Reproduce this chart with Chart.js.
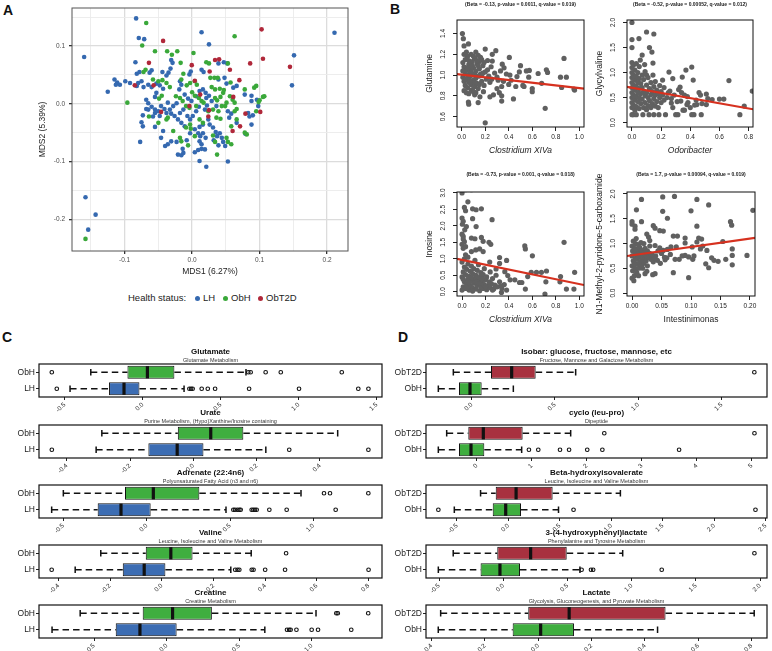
<!DOCTYPE html>
<html lang="en">
<head>
<meta charset="UTF-8">
<title>Health status metabolite figure</title>
<script src="https://cdn.jsdelivr.net/npm/chart.js"></script>
<style>
  body { margin: 0; background: #fff; font-family: 'Liberation Sans', Arial, sans-serif; }
  #fig { position: relative; width: 772px; height: 651px; overflow: hidden; }
  canvas { position: absolute; }
  .lbl { position: absolute; font-weight: bold; font-size: 14px; line-height: 14px; color: #111; }
  .leg { position: absolute; top: 292px; font-size: 9.5px; line-height: 12px; color: #222; }
  .dot { position: absolute; top: 295.5px; width: 5px; height: 5px; border-radius: 50%; }
</style>
</head>
<body>
<div id="fig">
  <div class="lbl" style="left:3px;top:3px">A</div>
  <div class="lbl" style="left:390px;top:2px">B</div>
  <div class="lbl" style="left:2px;top:330px">C</div>
  <div class="lbl" style="left:398px;top:330px">D</div>

  <canvas id="mds" width="360" height="285" style="left:0;top:0"></canvas>
  <div class="leg" style="left:128px">Health status:</div>
  <div class="dot" style="left:194.5px;background:#3569b0"></div><div class="leg" style="left:203px">LH</div>
  <div class="dot" style="left:222.5px;background:#3aa83a"></div><div class="leg" style="left:231px">ObH</div>
  <div class="dot" style="left:257.5px;background:#b0283a"></div><div class="leg" style="left:266px">ObT2D</div>

  <canvas id="b1" width="205" height="160" style="left:385px;top:0"></canvas>
  <canvas id="b2" width="205" height="160" style="left:555px;top:0"></canvas>
  <canvas id="b3" width="205" height="157" style="left:385px;top:172px"></canvas>
  <canvas id="b4" width="205" height="169" style="left:555px;top:160px"></canvas>
</div>

<script>
  // ---------- panel A : MDS ----------
  const aXBreaks = [-0.15, -0.1, -0.05, 0, 0.05, 0.1, 0.15, 0.2];
  const aXLabels = ['', '-0.1', '', '0.0', '', '0.1', '', '0.2'];
  const aYBreaks = [-0.2, -0.15, -0.1, -0.05, 0, 0.05, 0.1, 0.15];
  const aYLabels = ['-0.2', '', '-0.1', '', '0.0', '', '0.1', ''];

  const lhPts = [[-0.16,0.081],[-0.158,-0.162],[-0.143,-0.192],[-0.154,-0.218],[0.211,0.123],[0.151,0.084],[0.148,0.032],[-0.083,0.148],[0.014,0.124],[0.025,0.103],[-0.125,0.021],[-0.077,-0.066],[0.011,-0.099],[0.021,-0.109],[0.053,-0.1],
    [-0.079,0.114],[-0.071,0.112],[-0.084,0.072],[-0.082,0.052],[-0.078,0.055],[-0.06,0.058],[-0.063,0.054],[-0.031,0.076],[-0.029,0.071],[-0.032,0.061],[-0.035,0.054],[-0.038,0.049],[-0.044,0.055],[-0.018,0.039],[-0.016,0.033],[-0.019,0.025],[-0.002,0.056],[-0.004,0.051],[0.014,0.059],[0.017,0.055],[0.039,0.07],[0.047,0.072],[0.052,0.07],[0.048,0.045],[0.051,0.035],[0.039,0.042],[0.061,0.028],[0.066,0.031],[0.078,0.016],[0.088,0.014],[0.088,0.005],[0.096,0.007],
    [-0.115,0.042],[-0.111,0.037],[-0.113,0.033],[-0.107,0.033],[-0.099,0.039],[-0.092,0.036],[-0.082,0.031],[-0.08,0.036],[-0.075,0.039],[-0.072,0.029],[-0.065,0.033],[-0.06,0.029],[-0.053,0.035],[-0.048,0.032],[-0.043,0.026],[-0.053,0.019],[-0.055,0.012],[-0.068,0.007],[-0.065,0.001],[-0.06,-0.005],[-0.068,-0.009],[-0.055,-0.01],[-0.055,-0.016],[-0.073,-0.02],[-0.075,-0.032],[-0.058,-0.022],[-0.046,-0.004],[-0.041,-0.009],[-0.038,-0.016],[-0.033,-0.01],[-0.036,0.002],[-0.028,-0.004],[-0.023,0.001],[-0.031,-0.017],[-0.026,-0.021],[-0.021,-0.027],[-0.018,-0.016],[-0.013,-0.01],[-0.007,-0.021],[-0.003,-0.027],[-0.016,-0.033],[-0.011,-0.039],[0.001,-0.021],[0.006,-0.013],[0.01,-0.005],[0.011,0.022],[0.016,0.025],[0.02,0.019],[0.006,0.013],
    [-0.055,-0.04],[-0.043,-0.047],[-0.046,-0.059],[-0.04,-0.073],[-0.036,-0.07],[-0.031,-0.065],[-0.023,-0.066],[-0.021,-0.088],[-0.016,-0.089],[-0.013,-0.085],[-0.014,-0.078],[-0.008,-0.063],[-0.003,-0.051],[0.004,-0.044],[0.009,-0.051],[0.011,-0.04],[0.016,-0.036],[0.012,-0.056],[0.016,-0.051],[0.02,-0.059],[0.011,-0.065],[0.014,-0.07],[0.004,-0.084],[0.009,-0.08],[0.014,-0.078],[0.019,-0.079],[0.024,-0.027],[0.026,-0.036],[0.031,-0.041],[0.035,-0.049],[0.037,-0.056],[0.041,-0.051],[0.044,-0.059],[0.046,-0.066],[0.049,-0.073],[0.039,-0.072],[0.032,-0.063],[0.022,-0.003],[0.019,-0.01],[0.029,0.005],[0.036,-0.004],[0.053,-0.013],[0.058,-0.017],[0.055,-0.024],[0.066,-0.033],[0.083,-0.016],[0.09,-0.02],[0.088,-0.036],[0.085,-0.022],[0.098,-0.004],[0.079,-0.052],[0.021,0.01],[0.025,0.014],[-0.006,0.009],[-0.001,0.005],[-0.011,0.016],[-0.05,-0.013],[-0.048,-0.021],[-0.065,-0.01],[-0.073,-0.039]];
  const obhPts = [[-0.158,-0.234],[-0.068,0.14],[0.063,0.117],[-0.096,0.002],[0.107,0.013],[-0.074,0.101],[-0.055,0.091],[-0.037,0.091],[-0.03,0.085],[-0.022,0.091],[0.002,0.088],[-0.017,0.071],[0.021,0.072],[0.025,0.07],[0.053,0.07],[-0.069,0.059],[-0.072,0.055],[-0.058,0.042],[-0.05,0.039],[-0.044,0.041],[-0.038,0.036],[-0.033,0.029],[-0.013,0.052],[-0.016,0.042],[-0.008,0.032],[-0.003,0.036],[0.004,0.039],[0.007,0.033],[0.027,0.045],[0.033,0.045],[0.038,0.045],[0.029,0.029],[0.034,0.025],[0.041,0.026],[0.046,0.019],[0.047,0.024],[0.057,0.037],[0.078,0.025],[0.092,0.028],[0.095,0.031],[0.105,0.012],[0.1,0.006],[0.0985,0.003],
    [0.056,0.013],[0.06,0.007],[0.063,0.002],[0.066,-0.009],[0.063,-0.013],[0.066,-0.027],[0.095,-0.013],[0.078,-0.05],[0.081,-0.053],[-0.018,0.01],[-0.014,0.005],[0,0.02],[0.004,0.014],[0.01,0.01],[0.014,0.005],[0.017,0.002],[0.034,0.01],[0.037,0.006],[0.042,0.012],[0.051,0.002],[0.049,-0.004],[0.031,-0.01],[0.039,-0.013],[0.024,-0.013],[0.036,-0.024],[0.042,-0.026],[0.011,-0.027],[0.016,-0.033],[-0.003,-0.036],[-0.002,-0.043],[-0.009,-0.041],[-0.038,-0.027],[-0.036,-0.024],[-0.028,-0.047],[-0.018,-0.059],[-0.016,-0.065],[-0.006,-0.072],[0.004,-0.056],[0.031,-0.055],[0.034,-0.066],[0.051,-0.059],[0.053,-0.066],[0.058,-0.07],[0.037,-0.088],[-0.049,0.009],[-0.045,0.014],[-0.024,0.013],[-0.004,-0.007],[-0.009,-0.004],[0.006,-0.004],[0.044,-0.004],[0.058,-0.039],[-0.05,-0.033],[-0.064,-0.022]];
  const t2dPts = [[0.103,0.129],[0.105,0.078],[0.145,0.064],[0.086,0.07],[-0.043,0.109],[-0.064,0.071],[-0.085,0.032],[-0.057,0.032],[-0.0005,0.067],[0.026,0.056],[0.034,0.076],[0.04,0.077],[0.056,0.059],[0.07,0.041],[0.004,0.04],[0.012,0.016],[-0.004,-0.004],[-0.046,-0.014],[0.024,-0.022],[0.025,-0.011],[0.061,0.012],[0.071,-0.039],[0.06,-0.047],[0.079,-0.017],[0.101,-0.014]];

  // ---------- panel B : metabolite vs genus ----------
  const glutaminePts = [[0.006,1.40],[0.014,1.35],[0.02,1.28],[0.057,1.30],[0.2,1.25],[0.29,1.235],[0.405,1.17],[0.87,1.16],[0.345,1.105],[0.26,1.135],[0.22,1.14],[0.36,1.07],[0.5,1.09],[0.49,1.03],[0.55,1.04],[0.575,1.045],[0.72,1.05],[0.73,1.025],[0.65,1.015],[0.57,0.98],[0.68,0.92],[0.84,0.98],[0.89,0.98],[0.85,0.88],[0.96,0.855],[0.955,0.865],[0.44,0.77],[0.34,0.8],[0.34,0.75],[0.32,0.83],[0.52,0.9],[0.53,0.89],[0.6,0.84],[0.6,0.87],[0.71,0.68],[0.2,0.54],[0.057,0.74],[0.06,0.72],[0.14,0.735],[0.24,0.79],[0.27,0.81],[0.3,0.87],[0.34,0.89],[0.4,0.91],[0.46,0.89],[0.355,0.94],[0.31,0.95],[0.255,0.96],[0.41,1.0],[0.47,0.985],[0.11,0.81],[0.155,0.79],[0.185,0.84],[0.12,0.92],
    [0.01,1.12],[0.02,1.08],[0.03,1.15],[0.04,1.05],[0.05,1.18],[0.06,1.10],[0.07,1.02],[0.08,1.20],[0.09,1.13],[0.10,1.07],[0.11,1.16],[0.12,1.04],[0.13,1.11],[0.14,1.19],[0.15,1.06],[0.16,1.01],[0.18,1.09],[0.20,1.03],[0.22,1.05],[0.01,0.98],[0.02,0.94],[0.03,0.90],[0.04,0.96],[0.05,0.88],[0.06,0.93],[0.07,0.99],[0.08,0.91],[0.09,0.86],[0.10,0.95],[0.11,0.89],[0.12,0.97],[0.13,0.92],[0.14,0.87],[0.15,0.99],[0.17,0.94],[0.19,0.90],[0.21,0.96],[0.03,1.02],[0.05,1.00],[0.07,1.06],[0.09,1.00],[0.11,1.01],[0.13,0.99],[0.15,1.13],[0.17,1.15],[0.19,1.12],[0.02,1.20],[0.04,1.22],[0.06,1.14],[0.08,1.03],[0.10,1.18],[0.12,1.22],[0.14,1.09],[0.16,1.17],[0.18,1.02],[0.02,0.85],[0.04,0.83],[0.06,0.82],[0.08,0.85],[0.10,0.84],[0.12,0.83],[0.01,1.04],[0.03,0.96],[0.05,1.07],[0.07,0.95],[0.09,1.09],[0.11,0.93],[0.13,1.14],[0.15,0.91],[0.17,1.00],[0.25,1.08],[0.28,1.02],[0.30,0.98],[0.24,0.93],[0.26,1.20],[0.33,1.04],[0.38,1.01],[0.42,0.95],[0.23,0.99]];
  const glycylvalinePts = [[0,2.0],[0,1.66],[0,1.5],[0.048,1.68],[0.1,1.81],[0.15,1.77],[0.07,1.35],[0.12,1.5],[0.137,1.41],[0.144,1.19],[0.057,1.25],[0.087,1.16],[0.1,0.95],[0.144,0.95],[0.21,0.85],[0.254,1.01],[0.28,0.88],[0.345,0.91],[0.37,1.05],[0.41,1.11],[0.42,0.85],[0.33,0.71],[0.32,0.66],[0.46,0.6],[0.47,0.55],[0.51,0.36],[0.55,0.46],[0.6,0.47],[0.63,0.47],[0.665,0.84],[0.74,0.16],[0.77,0.33],[0.825,0.63],[0.51,0.57],[0.36,0.55],[0.377,0.36],[0.43,0.35],[0.445,0.36],[0.425,0.16],[0.41,0.16],[0.475,0.16],[0.315,0.16],[0.3,0.16],[0.26,0.63],[0.27,0.39],[0.335,0.43],[0.36,0.25],[0.384,0.4],[0.23,0.16],[0.185,0.16],[0.15,0.16],[0.117,0.16],[0.075,0.16],[0.01,0.16],[0,0.16],[0.03,0.16],
    [0,1.2],[0,1.1],[0,1.0],[0,0.9],[0,0.8],[0,0.7],[0,0.6],[0,0.5],[0,0.4],[0,0.3],[0.01,1.15],[0.01,0.95],[0.01,0.75],[0.01,0.55],[0.01,0.35],[0.02,1.05],[0.02,0.85],[0.02,0.65],[0.02,0.45],[0.02,0.25],[0.03,1.18],[0.03,0.92],[0.03,0.72],[0.03,0.52],[0.03,0.32],[0.04,1.0],[0.04,0.8],[0.04,0.6],[0.04,0.42],[0.05,1.12],[0.05,0.88],[0.05,0.68],[0.05,0.5],[0.05,0.28],[0.06,0.78],[0.06,0.58],[0.06,0.38],[0.07,0.95],[0.07,0.7],[0.07,0.47],[0.08,0.86],[0.08,0.62],[0.08,0.3],[0.09,1.02],[0.09,0.54],[0.09,0.4],[0.10,0.75],[0.10,0.6],[0.10,0.26],[0.11,0.9],[0.11,0.5],[0.11,0.34],[0.12,0.68],[0.12,0.44],[0.13,0.8],[0.13,0.56],[0.13,0.3],[0.14,0.62],[0.14,0.38],[0.15,0.72],[0.15,0.48],[0.16,0.82],[0.16,0.55],[0.16,0.33],[0.17,0.65],[0.17,0.42],[0.18,0.58],[0.18,0.3],[0.19,0.74],[0.19,0.5],[0.20,0.62],[0.20,0.4],[0.21,0.55],[0.22,0.45],[0.22,0.7],[0.24,0.5],[0.25,0.6],[0.27,0.48],[0.29,0.55],[0.31,0.42],[0.34,0.6],[0.38,0.52],[0.40,0.3],[0.44,0.45],[0.48,0.38],[0.52,0.48],[0.35,0.25],[0.28,0.3]];
  const inosinePts = [[0,3.0],[0.03,3.1],[0.08,3.1],[0.05,2.73],[0.02,2.56],[0.03,2.46],[0.09,2.52],[0.12,2.49],[0.165,2.52],[0.09,2.22],[0.256,2.19],[0,2.24],[0.01,2.14],[0.003,2.05],[0.023,1.88],[0.037,1.98],[0.12,1.98],[0,1.75],[0.01,1.68],[0.01,1.6],[0.02,1.52],[0,1.44],[0.01,1.32],[0.03,1.37],[0.08,1.63],[0.11,1.61],[0.165,1.65],[0.18,1.53],[0.23,1.5],[0.245,1.44],[0.117,1.27],[0.15,1.3],[0.18,1.22],[0.08,1.22],[0.32,1.04],[0.38,0.95],[0.535,1.39],[0.54,1.3],[0.6,1.09],[0.87,1.5],[0.236,0.9],[0.32,0.86],[0.29,0.69],[0.365,0.61],[0.39,0.49],[0.41,0.36],[0.45,0.36],[0.49,0.28],[0.336,-0.02],[0.54,0.08],[0.59,0.59],[0.56,0.46],[0.635,0.59],[0.677,0.59],[0.72,0.63],[0.715,0.3],[0.707,-0.07],[0.84,0.46],[0.835,0.3],[0.89,0.08],[0.954,0.08],[0.96,0.59],[0.51,0.28],
    [0,0.05],[0.01,0.15],[0.02,0.3],[0,0.45],[0.01,0.6],[0.02,0.75],[0,0.9],[0.03,0.1],[0.04,0.22],[0.05,0.38],[0.03,0.52],[0.04,0.68],[0.05,0.84],[0.06,0.05],[0.07,0.18],[0.08,0.33],[0.06,0.47],[0.07,0.62],[0.08,0.78],[0.09,0.12],[0.10,0.26],[0.11,0.4],[0.09,0.55],[0.10,0.7],[0.12,0.08],[0.13,0.2],[0.14,0.35],[0.12,0.5],[0.13,0.65],[0.15,0.03],[0.16,0.15],[0.17,0.28],[0.15,0.44],[0.16,0.58],[0.18,0.1],[0.19,0.22],[0.2,0.37],[0.18,0.52],[0.21,0.06],[0.22,0.18],[0.23,0.3],[0.21,0.45],[0.24,0.12],[0.25,0.25],[0.26,0.4],[0.27,0.08],[0.28,0.2],[0.3,0.15],[0.32,0.3],[0.34,0.1],[0.36,0.22],[0.38,0.05],[0.02,1.0],[0.05,1.05],[0.03,1.12],[0.11,0.95],[0.14,0.82],[0.19,0.7],[0.24,0.6],[0.29,0.5],[0.06,0.28],[0.09,0.02],[0.12,0.3],[0.04,0.12],[0.08,0.44],[0.15,0.25],[0.2,0.15],[0.01,0.38],[0.17,0.4],[0.26,0.05],[0.33,0.18]];
  const methylPts = [[0.016,1.89],[0.052,1.94],[0.072,1.95],[0.11,1.89],[0.13,1.78],[0.205,1.67],[0.0074,1.68],[0.052,1.65],[0.1,1.66],[0.06,1.51],[0.11,1.35],[0.167,1.44],[0.169,1.37],[0.036,1.36],[0.039,1.31],[0,1.44],[0,1.39],[0.005,1.35],[0.016,1.44],[0.005,1.29],[0.047,1.26],[0.053,1.25],[0.07,1.15],[0.077,1.15],[0.025,1.19],[0.028,1.13],[0.03,1.06],[0.09,1.11],[0.113,1.11],[0.11,1.03],[0.118,1.09],[0.09,1.01],[0.154,1.04],[0.17,0.89],[0.127,0.86],[0.12,0.95],[0.116,0.89],[0.102,0.93],[0.075,0.93],[0.066,0.93],[0.053,0.86],[0.047,0.91],[0.039,0.96],[0.073,0.68],[0.08,0.68],[0.09,0.76],[0.085,0.75],[0.096,0.73],[0.105,0.75],[0.103,0.68],[0.096,0.31],[0.07,0.41],[0.125,0.59],[0.13,0.51],[0.135,0.71],[0.139,0.66],[0.146,0.64],[0.159,0.68],[0.17,0.57],[0.17,0.76],[0.195,0.76],[0.022,0.39],[0.025,0.44],[0.035,0.37],[0.039,0.39],[0.036,0.63],[0.043,0.66],[0.056,0.67],[0.059,0.71],
    [0,0.3],[0.001,0.45],[0,0.55],[0.002,0.65],[0,0.75],[0.001,0.85],[0,0.95],[0.002,1.05],[0.004,0.35],[0.005,0.5],[0.004,0.6],[0.006,0.7],[0.005,0.8],[0.004,0.9],[0.006,1.0],[0.008,0.42],[0.009,0.58],[0.008,0.68],[0.01,0.78],[0.009,0.88],[0.01,0.98],[0.012,0.5],[0.013,0.62],[0.012,0.72],[0.014,0.82],[0.013,0.92],[0.015,1.02],[0.016,0.55],[0.017,0.66],[0.018,0.76],[0.016,0.86],[0.02,0.6],[0.021,0.7],[0.02,0.8],[0.022,0.9],[0.024,0.65],[0.025,0.75],[0.026,0.85],[0.028,0.72],[0.03,0.8],[0.03,0.95],[0.032,0.68],[0.034,0.78],[0.02,1.0],[0.011,0.35],[0.003,0.25],[0.007,1.1],[0.018,0.5],[0.026,0.55],[0.04,0.75],[0.044,0.85],[0.038,0.7],[0.05,0.8],[0.055,0.72],[0.048,0.6],[0.06,0.88],[0.065,0.78]];

  const glutamineFit = [[-0.04,1.01],[1.04,0.87]];
  const glycylvalineFit = [[-0.034,0.713],[0.83,0.267]];
  const inosineFit = [[-0.043,0.997],[1.04,0.203]];
  const methylFit = [[-0.0086,0.747],[0.2086,1.113]];

  const tickX10 = ['0.0','0.2','0.4','0.6','0.8','1.0'];
  const tickX08 = ['0.0','0.2','0.4','0.6','0.8'];
  const tickX02 = ['0.00','0.05','0.10','0.15','0.20'];
  const tickYGlutamine = ['0.6','0.8','1.0','1.2','1.4'];
  const tickY20 = ['0.0','0.5','1.0','1.5','2.0'];
  const tickY30 = ['0.0','0.5','1.0','1.5','2.0','2.5','3.0'];

  // ---------- panels C and D : boxplots ----------
  const cGroups = ['ObH', 'LH'];
  const cTitles = ['Glutamate', 'Urate', 'Adrenate (22:4n6)', 'Valine', 'Creatine'];
  const cSubs = ['Glutamate Metabolism', 'Purine Metabolism, (Hypo)Xanthine/Inosine containing', 'Polyunsaturated Fatty Acid (n3 and n6)', 'Leucine, Isoleucine and Valine Metabolism', 'Creatine Metabolism'];
  const cLo  = [[-0.333,-0.466],[-0.289,-0.307],[-0.5,-0.57],[-0.236,-0.335],[-0.596,-0.79]];
  const cQ1  = [[-0.098,-0.216],[-0.049,-0.142],[-0.13,-0.294],[-0.062,-0.151],[-0.165,-0.351]];
  const cMed = [[0.03,-0.12],[0.055,-0.051],[0.04,-0.154],[0.035,-0.068],[0.041,-0.184]];
  const cQ3  = [[0.203,-0.021],[0.158,0.032],[0.316,0.024],[0.119,0.014],[0.312,0.069]];
  const cHi  = [[0.662,0.265],[0.456,0.229],[0.926,0.476],[0.346,0.267],[1.03,0.677]];
  const cOut = [
    [[-0.583,0.677,0.692,0.788,0.885,1.276],[-0.551,0.299,0.31,0.32,0.378,0.417,0.464,0.682,1.002,1.382,1.447]],
    [[],[-0.447,0.303,0.553]],
    [[1.064,1.1,1.33],[0.52,0.53,0.544,0.556,0.564,0.63,0.64,0.65,0.66,0.736,0.84,1.134]],
    [[0.481],[-0.426,0.284,0.293,0.3,0.348,0.355,0.4,0.477,0.8]],
    [[1.17,1.18,1.39],[0.83,0.845,0.855,0.895,1.0,1.044,1.273]]];
  const cRange = [[-0.665,1.534],[-0.4875,0.596],[-0.646,1.412],[-0.475,0.852],[-0.88,1.485]];
  const cTicks = [['-0.5','0.0','0.5','1.0','1.5'],['-0.4','-0.2','0.0','0.2','0.4'],['-0.5','0.0','0.5','1.0'],['-0.4','-0.2','0.0','0.2','0.4','0.6','0.8'],['-0.5','0.0','0.5','1.0']];

  const dGroups = ['ObT2D', 'ObH'];
  const dTitles = ['Isobar: glucose, fructose, mannose, etc', 'cyclo (leu-pro)', 'Beta-hydroxyisovalerate', '3-(4-hydroxyphenyl)lactate', 'Lactate'];
  const dSubs = ['Fructose, Mannose and Galactose Metabolism', 'Dipeptide', 'Leucine, Isoleucine and Valine Metabolism', 'Phenylalanine and Tyrosine Metabolism', 'Glycolysis, Gluconeogenesis, and Pyruvate Metabolism'];
  const dLo  = [[-0.11,-0.2],[-0.545,-0.697],[-0.27,-0.525],[-0.39,-0.506],[-0.366,-0.375]];
  const dQ1  = [[0.116,-0.076],[-0.152,-0.321],[-0.123,-0.152],[-0.047,-0.177],[-0.0375,-0.096]];
  const dMed = [[0.24,-0.01],[0.121,-0.103],[0.075,-0.026],[0.213,-0.026],[0.116,0.009]];
  const dQ3  = [[0.384,0.06],[0.836,0.139],[0.43,0.123],[0.494,0.13],[0.4775,0.134]];
  const dHi  = [[0.624,0.25],[1.709,0.818],[1.088,0.487],[0.93,0.597],[0.81,0.4475]];
  const dOut = [
    [[1.696],[]],
    [[2.32,5.05],[0.95,1.12,1.515,1.68,2.01,2.285,3.68]],
    [[],[-0.68,0.633,2.4]],
    [[1.956],[0.61,0.683,0.7,1.234]],
    [[],[]]];
  const dRange = [[-0.274,1.772],[-0.921,5.278],[-0.8,2.512],[-0.602,2.054],[-0.421,0.858]];
  const dTicks = [['0.0','0.5','1.0','1.5'],['0','1','2','3','4','5'],['-0.5','0.0','0.5','1.0','1.5','2.0','2.5'],['-0.5','0.0','0.5','1.0','1.5','2.0'],['-0.4','-0.2','0.0','0.2','0.4','0.6','0.8']];

  const boxTops = [364, 425, 485, 545, 605];

  // ---------- helpers ----------
  Chart.defaults.font.family = "'Liberation Sans', Arial, sans-serif";
  Chart.defaults.color = '#222';

  const fixW = w => s => { s.width = w; s.paddingTop = 0; s.paddingBottom = 0; };
  const fixH = h => s => { s.height = h; s.paddingLeft = 0; s.paddingRight = 0; };
  const setTicks = vals => s => { s.ticks = vals.map(v => ({ value: v })); };
  const xy = pts => pts.map(p => ({ x: p[0], y: p[1] }));

  const frame = {
    id: 'frame',
    afterDraw(chart, args, opts) {
      const a = chart.chartArea, c = chart.ctx;
      c.save();
      c.strokeStyle = opts.color || '#111';
      c.lineWidth = opts.width || 1;
      c.strokeRect(a.left, a.top, a.right - a.left, a.bottom - a.top);
      c.restore();
    }
  };

  // ---------- panel A ----------
  const isMajorX = ctx => aXLabels[ctx.index] !== '';
  const isMajorY = ctx => aYLabels[ctx.index] !== '';
  new Chart(document.getElementById('mds'), {
    type: 'scatter',
    data: { datasets: [
      { label: 'LH', data: xy(lhPts), backgroundColor: '#3569b0', order: 3 },
      { label: 'ObH', data: xy(obhPts), backgroundColor: '#3aa83a', order: 2 },
      { label: 'ObT2D', data: xy(t2dPts), backgroundColor: '#b0283a', order: 1 }
    ]},
    options: {
      responsive: false, animation: false, events: [],
      elements: { point: { radius: 2.3, borderWidth: 0 } },
      layout: { padding: { top: 8, right: 12, left: 0, bottom: 0 }, autoPadding: false },
      plugins: { legend: { display: false }, tooltip: { enabled: false }, frame: { color: '#555', width: 1 } },
      scales: {
        x: { type: 'linear', min: -0.178, max: 0.231, afterBuildTicks: setTicks(aXBreaks), afterFit: fixH(34),
             ticks: { callback: (v, i) => aXLabels[i], font: { size: 6.5 }, color: '#4d4d4d', padding: 2, maxRotation: 0, autoSkip: false },
             grid: { color: c => isMajorX(c) ? '#dcdcdc' : '#ebebeb', lineWidth: c => isMajorX(c) ? 1.3 : 0.9,
                     tickColor: c => isMajorX(c) ? '#333' : 'rgba(0,0,0,0)', tickLength: 3 },
             border: { display: false },
             title: { display: true, text: 'MDS1 (6.27%)', font: { size: 8.5 }, color: '#222', padding: { top: 0, bottom: 7.9 } } },
        y: { type: 'linear', min: -0.255, max: 0.166, afterBuildTicks: setTicks(aYBreaks), afterFit: fixW(72),
             ticks: { callback: (v, i) => aYLabels[i], font: { size: 6.5 }, color: '#4d4d4d', padding: 4, autoSkip: false },
             grid: { color: c => isMajorY(c) ? '#dcdcdc' : '#ebebeb', lineWidth: c => isMajorY(c) ? 1.3 : 0.9,
                     tickColor: c => isMajorY(c) ? '#333' : 'rgba(0,0,0,0)', tickLength: 3 },
             border: { display: false },
             title: { display: true, text: 'MDS2 (5.39%)', font: { size: 8.5 }, color: '#222', padding: { top: 37.9, bottom: 0 } } }
      }
    },
    plugins: [frame]
  });

  // ---------- panel B ----------
  function scatterB(id, cfg) {
    new Chart(document.getElementById(id), {
      type: 'scatter',
      data: { datasets: [
        { type: 'line', data: xy(cfg.fit), borderColor: '#d6311f', borderWidth: 2.2, pointRadius: 0, fill: false, order: 0 },
        { data: xy(cfg.pts), backgroundColor: '#606060', pointRadius: 2.6, borderWidth: 0, order: 1 }
      ]},
      options: {
        responsive: false, animation: false, events: [],
        layout: { padding: { top: 0, right: cfg.pr, left: 0, bottom: 0 }, autoPadding: false },
        plugins: {
          legend: { display: false }, tooltip: { enabled: false }, frame: { color: '#111', width: 1 },
          title: { display: true, text: cfg.title, fullSize: false, color: '#222',
                   font: { size: 5, weight: 'bold' }, padding: { top: cfg.tt, bottom: cfg.tb } }
        },
        scales: {
          x: { type: 'linear', min: cfg.xr[0], max: cfg.xr[1], afterBuildTicks: setTicks(cfg.xt.map(Number)), afterFit: fixH(33),
               ticks: { callback: (v, i) => cfg.xt[i], font: { size: 6.5 }, color: '#222', padding: 2, maxRotation: 0, autoSkip: false },
               grid: { drawOnChartArea: false, tickLength: 4, tickColor: '#222' }, border: { display: false },
               title: { display: true, text: cfg.xTitle, color: '#222', font: { size: 8.5, style: cfg.italic ? 'italic' : 'normal' }, padding: { top: 0, bottom: 4.4 } } },
          y: { type: 'linear', min: cfg.yr[0], max: cfg.yr[1], afterBuildTicks: setTicks(cfg.yt.map(Number)), afterFit: fixW(72),
               ticks: { callback: (v, i) => cfg.yt[i], font: { size: 6.5 }, color: '#222', padding: 5, minRotation: 90, maxRotation: 90, crossAlign: 'center', autoSkip: false },
               grid: { drawOnChartArea: false, tickLength: 4, tickColor: '#222' }, border: { display: false },
               title: { display: true, text: cfg.yTitle, color: '#222', font: { size: 8.5 }, padding: { top: 40, bottom: 0 } } }
        }
      },
      plugins: [frame]
    });
  }

  scatterB('b1', { pts: glutaminePts, fit: glutamineFit, xr: [-0.04, 1.04], yr: [0.50, 1.53], xt: tickX10, yt: tickYGlutamine,
    title: '(Beta = -0.13, p-value = 0.0011, q-value = 0.019)', xTitle: 'Clostridium XIVa', italic: true, yTitle: 'Glutamine', pr: 6, tt: 2, tb: 12 });
  scatterB('b2', { pts: glycylvalinePts, fit: glycylvalineFit, xr: [-0.034, 0.83], yr: [-0.087, 2.05], xt: tickX08, yt: tickY20,
    title: '(Beta = -0.52, p-value = 0.00052, q-value = 0.012)', xTitle: 'Odoribacter', italic: true, yTitle: 'Glycylvaline', pr: 7, tt: 2, tb: 12 });
  scatterB('b3', { pts: inosinePts, fit: inosineFit, xr: [-0.043, 1.04], yr: [-0.13, 3.03], xt: tickX10, yt: tickY30,
    title: '(Beta = -0.73, p-value = 0.001, q-value = 0.018)', xTitle: 'Clostridium XIVa', italic: true, yTitle: 'Inosine', pr: 6, tt: 0, tb: 14 });
  scatterB('b4', { pts: methylPts, fit: methylFit, xr: [-0.0086, 0.2086], yr: [-0.06, 2.04], xt: tickX02, yt: tickY20,
    title: '(Beta = 1.7, p-value = 0.00094, q-value = 0.019)', xTitle: 'Intestinimonas', italic: false, yTitle: 'N1-Methyl-2-pyridone-5-carboxamide', pr: 5, tt: 12, tb: 14 });

  // ---------- panels C, D ----------
  function whiskers(lo, q1, med, q3, hi) {
    return {
      id: 'whiskers',
      afterDatasetsDraw(chart) {
        const { x, y } = chart.scales, ctx = chart.ctx;
        const bars = chart.getDatasetMeta(0).data;
        const px = v => x.getPixelForValue(v);
        ctx.save();
        ctx.strokeStyle = '#111';
        lo.forEach((v, k) => {
          const yc = y.getPixelForValue(k), h = bars[k].height;
          ctx.lineWidth = 1.5;
          ctx.setLineDash([6.5, 4]);
          ctx.beginPath();
          ctx.moveTo(px(v), yc); ctx.lineTo(px(q1[k]), yc);
          ctx.moveTo(px(q3[k]), yc); ctx.lineTo(px(hi[k]), yc);
          ctx.stroke();
          ctx.setLineDash([]);
          ctx.beginPath();
          ctx.moveTo(px(v), yc - h / 4); ctx.lineTo(px(v), yc + h / 4);
          ctx.moveTo(px(hi[k]), yc - h / 4); ctx.lineTo(px(hi[k]), yc + h / 4);
          ctx.stroke();
          ctx.lineWidth = 3.2;
          ctx.beginPath();
          ctx.moveTo(px(med[k]), yc - h / 2 + 0.5); ctx.lineTo(px(med[k]), yc + h / 2 - 0.5);
          ctx.stroke();
        });
        ctx.restore();
      }
    };
  }

  const fig = document.getElementById('fig');
  function boxPanel(p, left, width, yw, pr) {
    p.titles.forEach((t, i) => {
      const cv = document.createElement('canvas');
      cv.width = width; cv.height = 73;
      cv.style.left = left + 'px'; cv.style.top = (boxTops[i] - 20) + 'px';
      fig.appendChild(cv);
      const outs = [];
      p.out[i].forEach((vals, k) => vals.forEach(v => outs.push({ x: v, y: p.groups[k] })));
      const labels = p.ticks[i];
      new Chart(cv, {
        type: 'bar',
        data: { labels: p.groups, datasets: [
          { type: 'bar', data: p.groups.map((g, k) => [p.q1[i][k], p.q3[i][k]]), backgroundColor: p.colors,
            borderColor: '#111', borderWidth: 1, borderSkipped: false, barPercentage: 0.8, categoryPercentage: 1, order: 2 },
          { type: 'scatter', data: outs, pointStyle: 'circle', pointRadius: 1.8, borderColor: '#111', borderWidth: 1.1,
            backgroundColor: 'rgba(0,0,0,0)', order: 1 }
        ]},
        options: {
          indexAxis: 'y', responsive: false, animation: false, events: [],
          layout: { padding: { top: 0, right: pr, left: 0, bottom: 0 }, autoPadding: false },
          plugins: {
            legend: { display: false }, tooltip: { enabled: false }, frame: { color: '#111', width: 1.2 },
            title: { display: true, text: t, fullSize: false, color: '#111', font: { size: 8, weight: 'bold' }, padding: { top: 3.2, bottom: 0 } },
            subtitle: { display: true, text: p.subs[i], fullSize: false, color: '#333', font: { size: 5.5 }, padding: { top: 0, bottom: 0.6 } }
          },
          scales: {
            x: { type: 'linear', min: p.range[i][0], max: p.range[i][1], offset: false,
                 afterBuildTicks: setTicks(labels.map(Number)), afterFit: fixH(20),
                 ticks: { callback: (v, j) => labels[j], font: { size: 6.3 }, color: '#222', padding: 1, minRotation: 45, maxRotation: 45, autoSkip: false },
                 grid: { drawOnChartArea: false, tickLength: 3, tickColor: '#222' }, border: { display: false } },
            y: { type: 'category', offset: true, afterFit: fixW(yw),
                 ticks: { font: { size: 8.5 }, color: '#222', padding: 1 },
                 grid: { drawOnChartArea: false, offset: false, tickLength: 3, tickColor: '#222' }, border: { display: false } }
          }
        },
        plugins: [frame, whiskers(p.lo[i], p.q1[i], p.med[i], p.q3[i], p.hi[i])]
      });
    });
  }

  boxPanel({ titles: cTitles, subs: cSubs, groups: cGroups, colors: ['#3fae3f', '#3c6db3'],
             lo: cLo, q1: cQ1, med: cMed, q3: cQ3, hi: cHi, out: cOut, range: cRange, ticks: cTicks }, 0, 385, 39, 3);
  boxPanel({ titles: dTitles, subs: dSubs, groups: dGroups, colors: ['#a8313f', '#3fae3f'],
             lo: dLo, q1: dQ1, med: dMed, q3: dQ3, hi: dHi, out: dOut, range: dRange, ticks: dTicks }, 385, 387, 41, 5);
</script>
</body>
</html>
